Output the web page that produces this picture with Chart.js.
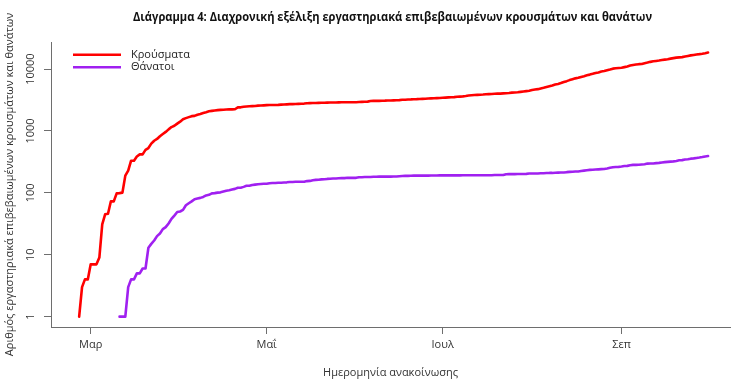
<!DOCTYPE html>
<html>
<head>
<meta charset="utf-8">
<script src="https://cdn.jsdelivr.net/npm/chart.js@4/dist/chart.umd.min.js"></script>
<style>
  html, body { margin: 0; padding: 0; background: #fff; }
  #wrap { width: 735px; height: 388px; }
</style>
</head>
<body>
<div id="wrap"><canvas id="covidChart"></canvas></div>
<script>
// daily cumulative values, one per day from the start date
const casesStart = '2020-02-26';
const cases = [
  1, 3, 4, 4,
  // Mar
  7, 7, 7, 9, 31, 45, 46, 73, 73, 98, 99, 101, 190, 228, 331, 331, 387, 418, 418, 495,
  530, 624, 695, 743, 821, 892, 966, 1061, 1156, 1212, 1314,
  // Apr
  1415, 1544, 1613, 1673, 1735, 1755, 1832, 1884, 1955, 2011, 2081, 2114, 2145, 2170, 2192,
  2207, 2224, 2235, 2235, 2245, 2401, 2408, 2463, 2490, 2506, 2517, 2534, 2566, 2576, 2591,
  // May
  2612, 2620, 2626, 2632, 2642, 2663, 2678, 2691, 2710, 2716, 2726, 2744, 2760, 2770, 2810,
  2819, 2834, 2836, 2840, 2850, 2853, 2873, 2876, 2878, 2882, 2892, 2903, 2906, 2909, 2915, 2917,
  // Jun
  2918, 2937, 2952, 2967, 2980, 3049, 3058, 3060, 3068, 3083, 3088, 3108, 3112, 3121, 3134,
  3148, 3188, 3203, 3227, 3237, 3256, 3266, 3287, 3302, 3310, 3343, 3366, 3376, 3390, 3409,
  // Jul
  3432, 3458, 3486, 3511, 3519, 3562, 3589, 3622, 3672, 3732, 3772, 3803, 3826, 3852, 3876,
  3910, 3939, 3964, 3983, 4007, 4012, 4048, 4077, 4110, 4166, 4193, 4227, 4279, 4336, 4401, 4477,
  // Aug
  4587, 4662, 4737, 4855, 4973, 5123, 5270, 5423, 5623, 5749, 5942, 6177, 6381, 6632, 6858,
  7075, 7222, 7472, 7684, 7953, 8135, 8381, 8664, 8819, 9105, 9280, 9558, 9840, 10158, 10317, 10417,
  // Sep
  10524, 10757, 10998, 11386, 11663, 11832, 11998, 12080, 12452, 12734, 13079, 13364, 13534, 13730, 13965,
  14193, 14400, 14738, 15022, 15318, 15469, 15595, 15928, 16286, 16627, 16913, 17228, 17444, 17707, 18053,
  // Oct
  18475
];

const deathsStart = '2020-03-11';
const deaths = [
  // Mar 11-31
  1, 1, 1, 3, 4, 4, 5, 5, 6, 6, 13, 15, 17, 20, 22, 26, 28, 32, 38, 43, 49,
  // Apr
  50, 53, 63, 68, 73, 79, 81, 83, 86, 91, 93, 98, 99, 101, 102,
  105, 108, 110, 113, 116, 121, 121, 125, 130, 130, 134, 136, 138, 139, 140,
  // May
  140, 143, 144, 144, 146, 146, 147, 148, 150, 150, 151, 151, 151, 151, 155,
  156, 160, 162, 163, 165, 166, 168, 169, 171, 171, 172, 173, 173, 175, 175, 175,
  // Jun
  175, 179, 179, 180, 180, 180, 182, 182, 183, 183, 183, 183, 183, 184, 184,
  186, 187, 188, 188, 189, 190, 190, 190, 190, 190, 190, 191, 191, 191, 192,
  // Jul
  192, 192, 192, 192, 192, 192, 192, 193, 193, 193, 193, 193, 193, 193, 193,
  193, 193, 193, 194, 194, 194, 194, 200, 201, 201, 201, 202, 202, 202, 203, 205,
  // Aug
  206, 206, 206, 207, 208, 209, 210, 210, 211, 212, 213, 213, 216, 218, 219,
  221, 222, 226, 229, 232, 235, 236, 238, 240, 242, 243, 248, 254, 259, 262, 263,
  // Sep
  266, 271, 273, 279, 283, 283, 284, 287, 290, 297, 298, 299, 302, 305, 310,
  314, 317, 320, 323, 328, 336, 338, 346, 350, 357, 361, 367, 372, 379, 388,
  // Oct
  393
];

const seriesNames = ['Κρούσματα', 'Θάνατοι'];
const seriesColors = ['#FF0000', '#A020F0'];

const monthTicks = ['2020-03-01', '2020-05-01', '2020-07-01', '2020-09-01'];
const monthLabels = ['Μαρ', 'Μαΐ', 'Ιουλ', 'Σεπ'];

const yTicks = [1, 10, 100, 1000, 10000];
const yTickLabels = ['1', '10', '100', '1000', '10000'];

const titleText = 'Διάγραμμα 4: Διαχρονική εξέλιξη εργαστηριακά επιβεβαιωμένων κρουσμάτων και θανάτων';

const FONT = '"Open Sans", "Noto Sans", sans-serif';
const axisColor = '#6e6e6e';
const textColor = '#333333';

// days since 1 March 2020
function dayOf(s) {
  const [y, m, d] = s.split('-').map(Number);
  return (Date.UTC(y, m - 1, d) - Date.UTC(2020, 2, 1)) / 86400000;
}

function toPoints(start, values) {
  const d0 = dayOf(start);
  return values.map((v, i) => ({ x: d0 + i, y: v }));
}

// title (condensed), rotated y tick labels and the legend, drawn like base R does
const extras = {
  id: 'extras',
  afterDraw(chart) {
    const ctx = chart.ctx;
    const ys = chart.scales.y;
    const area = chart.chartArea;
    ctx.save();

    // title: bold 13px squeezed to the width of the original condensed face
    ctx.font = 'bold 13px ' + FONT;
    ctx.fillStyle = '#111';
    ctx.textAlign = 'center';
    ctx.textBaseline = 'middle';
    const sx = 519 / ctx.measureText(titleText).width;
    ctx.save();
    ctx.translate((area.left + area.right) / 2 + 2, 17);
    ctx.scale(Math.min(1, sx), 1);
    ctx.fillText(titleText, 0, 0);
    ctx.restore();

    ctx.font = '11px ' + FONT;
    ctx.fillStyle = textColor;
    yTicks.forEach((v, i) => {
      ctx.save();
      ctx.translate(31, ys.getPixelForValue(v));
      ctx.rotate(-Math.PI / 2);
      ctx.fillText(yTickLabels[i], 0, 0);
      ctx.restore();
    });

    // legend
    ctx.textAlign = 'left';
    ctx.lineWidth = 2.6;
    ctx.lineCap = 'butt';
    seriesNames.forEach((name, i) => {
      const ly = area.top + 12.7 + i * 12.6;
      ctx.strokeStyle = seriesColors[i];
      ctx.beginPath();
      ctx.moveTo(area.left + 22, ly);
      ctx.lineTo(area.left + 70, ly);
      ctx.stroke();
      ctx.fillStyle = '#222';
      ctx.fillText(name, area.left + 80, ly);
    });
    ctx.restore();
  }
};

const ctx = document.getElementById('covidChart').getContext('2d');
new Chart(ctx, {
  type: 'line',
  data: {
    datasets: [{
      label: seriesNames[0],
      data: toPoints(casesStart, cases),
      borderColor: seriesColors[0],
      borderWidth: 2.6,
    }, {
      label: seriesNames[1],
      data: toPoints(deathsStart, deaths),
      borderColor: seriesColors[1],
      borderWidth: 2.6,
    }]
  },
  options: {
    responsive: true,
    maintainAspectRatio: false,
    animation: false,
    devicePixelRatio: 1,
    layout: { padding: { left: 0, right: 5, top: 42, bottom: 0 } },
    elements: {
      point: { radius: 0, hoverRadius: 0 },
      line: { tension: 0, borderCapStyle: 'round', borderJoinStyle: 'round', fill: false }
    },
    plugins: {
      legend: { display: false },
      tooltip: { enabled: false },
      title: { display: false }
    },
    scales: {
      x: {
        type: 'linear',
        min: -13.76,
        max: 221.6,
        grid: { display: true, drawOnChartArea: false, drawTicks: true, tickLength: 7, color: axisColor },
        border: { display: true, color: axisColor, width: 1 },
        afterBuildTicks: (s) => { s.ticks = monthTicks.map(d => ({ value: dayOf(d) })); },
        afterFit: (s) => { s.height = 61; },
        ticks: {
          color: textColor,
          font: { family: FONT, size: 11 },
          padding: 4,
          maxRotation: 0,
          autoSkip: false,
          callback: (v, i) => monthLabels[i]
        },
        title: {
          display: true,
          text: 'Ημερομηνία ανακοίνωσης',
          color: textColor,
          font: { family: FONT, size: 11 },
          padding: { top: 0, bottom: 8.5 }
        }
      },
      y: {
        type: 'logarithmic',
        min: 0.681,
        max: 27370,
        grid: { display: true, drawOnChartArea: false, drawTicks: true, tickLength: 7, color: axisColor },
        border: { display: true, color: axisColor, width: 1 },
        afterBuildTicks: (s) => { s.ticks = yTicks.map(v => ({ value: v })); },
        afterFit: (s) => { s.width = 51; },
        ticks: { display: false },
        title: {
          display: true,
          text: 'Αριθμός εργαστηριακά επιβεβαιωμένων κρουσμάτων και θανάτων',
          color: textColor,
          font: { family: FONT, size: 11 },
          padding: { top: 3.5, bottom: 0 }
        }
      }
    }
  },
  plugins: [extras]
});
</script>
</body>
</html>
